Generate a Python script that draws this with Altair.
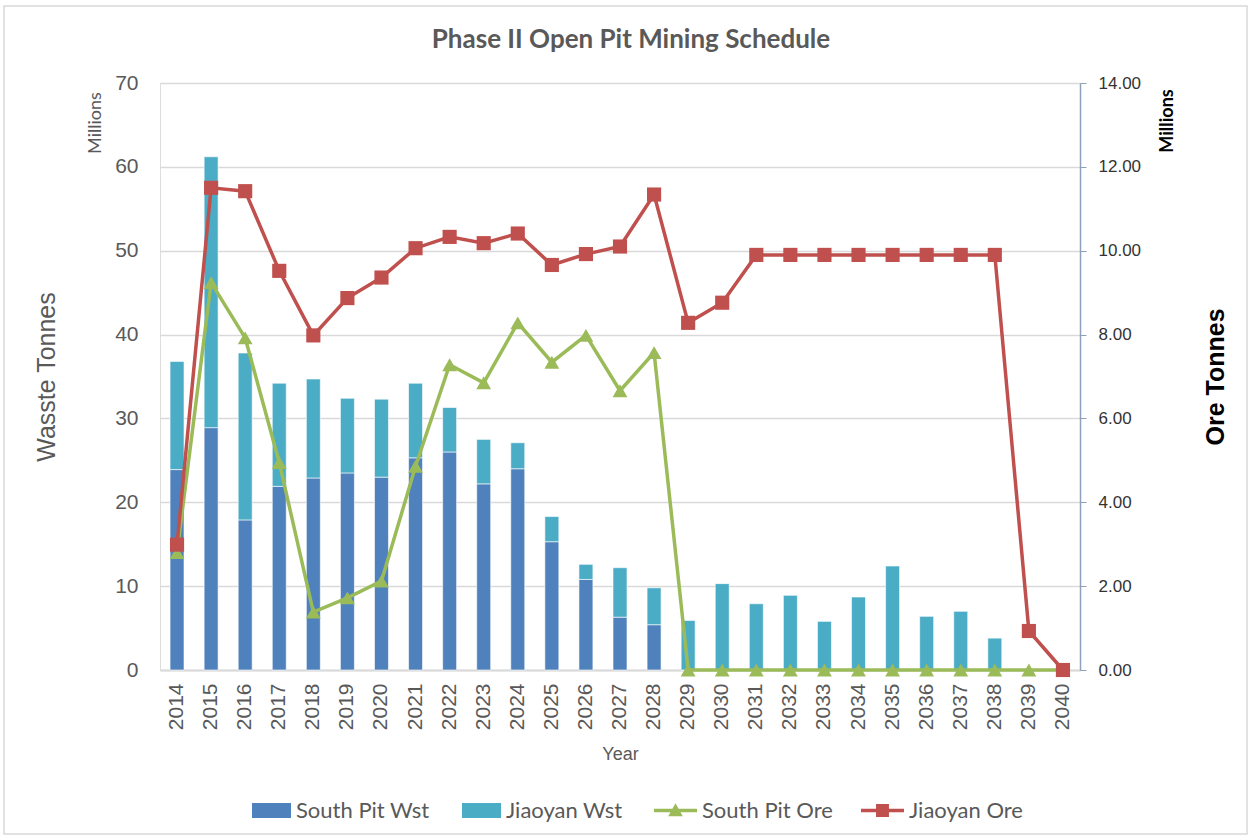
import altair as alt
import pandas as pd

# Mining schedule values (millions of tonnes)
years = [2014, 2015, 2016, 2017, 2018, 2019, 2020, 2021, 2022, 2023, 2024, 2025, 2026, 2027,
         2028, 2029, 2030, 2031, 2032, 2033, 2034, 2035, 2036, 2037, 2038, 2039, 2040]
south_pit_wst = [23.9, 28.9, 17.9, 21.9, 22.9, 23.5, 23.0, 25.3, 26.0, 22.2, 24.0, 15.3, 10.8, 6.3,
                 5.4, 0, 0, 0, 0, 0, 0, 0, 0, 0, 0, 0, 0]
jiaoyan_wst = [12.9, 32.3, 19.9, 12.3, 11.8, 8.9, 9.3, 8.9, 5.3, 5.3, 3.1, 3.0, 1.8, 5.9,
               4.4, 5.9, 10.3, 7.9, 8.9, 5.8, 8.7, 12.4, 6.4, 7.0, 3.8, 0, 0]
south_pit_ore = [2.80, 9.24, 7.92, 4.95, 1.38, 1.72, 2.12, 4.86, 7.28, 6.85, 8.28, 7.34, 7.98, 6.66,
                 7.57, 0, 0, 0, 0, 0, 0, 0, 0, 0, 0, 0, 0]
jiaoyan_ore = [2.99, 11.50, 11.42, 9.52, 7.98, 8.87, 9.36, 10.06, 10.33, 10.18, 10.41, 9.66, 9.92, 10.10,
               11.34, 8.28, 8.76, 9.90, 9.90, 9.90, 9.90, 9.90, 9.90, 9.90, 9.90, 0.93, 0.00]

df = pd.DataFrame({
    "Year": years,
    "south_wst": south_pit_wst,
    "jiaoyan_wst": jiaoyan_wst,
    "south_ore": south_pit_ore,
    "jiaoyan_ore": jiaoyan_ore,
})

FONT = "Lato"
GREY = "#595959"
C_SOUTH_WST = "#4F81BD"
C_JIAOYAN_WST = "#4BACC6"
C_SOUTH_ORE = "#9BBB59"
C_JIAOYAN_ORE = "#C0504D"

# legend key shapes (unit box -1..1)
RECT_KEY = "M-1,-0.38H1V0.38H-1Z"
TRI_KEY = "M-1,-0.08H1V0.08H-1Z M0,-0.34L0.34,0.27L-0.34,0.27Z"
SQ_KEY = "M-1,-0.08H1V0.08H-1Z M-0.3,-0.3H0.3V0.3H-0.3Z"


def key_legend(x, y, shape, size):
    return alt.Legend(
        orient="none", legendX=x, legendY=y, direction="horizontal", title=None,
        symbolType=shape, symbolSize=size, symbolStrokeWidth=0, symbolOpacity=1,
        labelFont=FONT, labelFontSize=22, labelColor=GREY, labelOffset=5, padding=0,
    )


x_enc = alt.X(
    "Year:O",
    scale=alt.Scale(paddingInner=0.59, paddingOuter=0.295),
    axis=alt.Axis(
        labelAngle=-90, ticks=False, domainColor="#D9D9D9", domainWidth=2,
        labelFontSize=21, labelColor=GREY, labelPadding=13,
        title="Year", titleFontSize=18, titleFontWeight="normal", titleColor=GREY,
        titlePadding=16,
    ),
)

left_axis = alt.Axis(
    values=[0, 10, 20, 30, 40, 50, 60, 70], ticks=False, domain=False,
    labelFontSize=21, labelColor=GREY, labelPadding=22,
    grid=True, gridColor="#D9D9D9", gridWidth=1.3,
    title="Wasste Tonnes", titleFontSize=25, titleFontWeight="normal", titleColor=GREY,
    titlePadding=55,
)
left_scale = alt.Scale(domain=[0, 70])

right_axis = alt.Axis(
    orient="right", values=[0, 2, 4, 6, 8, 10, 12, 14], format=".2f",
    ticks=True, tickSize=6, tickColor="#8EA0BA", domainColor="#8EA0BA", domainWidth=1.5,
    labelFontSize=17, labelColor="#333333", labelPadding=12, grid=False,
    title="Ore Tonnes", titleFontSize=25, titleFontWeight="bold", titleColor="#000000",
    titleAngle=270, titlePadding=88,
)
right_scale = alt.Scale(domain=[0, 14])

base = alt.Chart(df)

# stacked waste bars
bar_south = base.transform_calculate(series="'South Pit Wst'").mark_bar(
    stroke="white", strokeWidth=0.6
).encode(
    x=x_enc,
    y=alt.Y("south_wst:Q", scale=left_scale, axis=left_axis),
    color=alt.Color("series:N", scale=alt.Scale(domain=["South Pit Wst"], range=[C_SOUTH_WST]),
                    legend=key_legend(92, 708, RECT_KEY, 1521)),
)
bar_jiaoyan = base.transform_calculate(
    series="'Jiaoyan Wst'", top="datum.south_wst + datum.jiaoyan_wst"
).mark_bar(stroke="white", strokeWidth=0.6).encode(
    x=x_enc,
    y=alt.Y("top:Q", scale=left_scale, axis=left_axis),
    y2="south_wst:Q",
    color=alt.Color("series:N", scale=alt.Scale(domain=["Jiaoyan Wst"], range=[C_JIAOYAN_WST]),
                    legend=key_legend(302, 708, RECT_KEY, 1521)),
)
waste = alt.layer(bar_south, bar_jiaoyan).resolve_scale(color="independent")

# ore lines
line_south = base.mark_line(color=C_SOUTH_ORE, strokeWidth=3.5).encode(
    x=x_enc, y=alt.Y("south_ore:Q", scale=right_scale, axis=right_axis)
)
pts_south = base.transform_calculate(series="'South Pit Ore'").mark_point(
    filled=True, shape="triangle-up", size=220, opacity=1
).encode(
    x=x_enc,
    y=alt.Y("south_ore:Q", scale=right_scale, axis=right_axis),
    color=alt.Color("series:N", scale=alt.Scale(domain=["South Pit Ore"], range=[C_SOUTH_ORE]),
                    legend=key_legend(494, 706, TRI_KEY, 1849)),
)
line_jiaoyan = base.mark_line(color=C_JIAOYAN_ORE, strokeWidth=3.5).encode(
    x=x_enc, y=alt.Y("jiaoyan_ore:Q", scale=right_scale, axis=right_axis)
)
pts_jiaoyan = base.transform_calculate(series="'Jiaoyan Ore'").mark_point(
    filled=True, shape="square", size=200, opacity=1
).encode(
    x=x_enc,
    y=alt.Y("jiaoyan_ore:Q", scale=right_scale, axis=right_axis),
    color=alt.Color("series:N", scale=alt.Scale(domain=["Jiaoyan Ore"], range=[C_JIAOYAN_ORE]),
                    legend=key_legend(701, 706, SQ_KEY, 1849)),
)
ore = alt.layer(line_south, pts_south, line_jiaoyan, pts_jiaoyan).resolve_scale(color="independent")

one = alt.Data(values=[{"k": 1}])

# outer chart frame
frame = alt.Chart(one).mark_rect(fillOpacity=0, stroke="#D9D9D9", strokeWidth=1.5).encode(
    x=alt.value(-156), x2=alt.value(1087), y=alt.value(-77), y2=alt.value(751)
)

# chart heading
heading = alt.Chart(one).mark_text(
    text="Phase II Open Pit Mining Schedule", font=FONT, fontSize=26, fontWeight="bold",
    color=GREY, align="center", baseline="middle"
).encode(x=alt.value(471), y=alt.value(-43))

# display-unit labels of both value axes
millions_left = alt.Chart(one).mark_text(
    text="Millions", angle=270, font=FONT, fontSize=18, color=GREY
).encode(x=alt.value(-64), y=alt.value(40))
millions_right = alt.Chart(one).mark_text(
    text="Millions", angle=270, font=FONT, fontSize=18, fontWeight="bold", color="#000000"
).encode(x=alt.value(1008), y=alt.value(38))

chart = alt.layer(frame, heading, waste, ore, millions_left, millions_right).resolve_scale(
    y="independent", color="independent"
).properties(
    width=920,
    height=587,
    autosize=alt.AutoSizeParams(type="none"),
    padding={"left": 160, "top": 83, "right": 172, "bottom": 170},
).configure_view(
    stroke="#7EA1D3", strokeWidth=1.5
).configure_axis(
    labelFont=FONT, titleFont=FONT
).configure_legend(
    labelFont=FONT
).configure(background="white")

chart.save("out.html", embed_options={"renderer": "svg", "actions": False})
